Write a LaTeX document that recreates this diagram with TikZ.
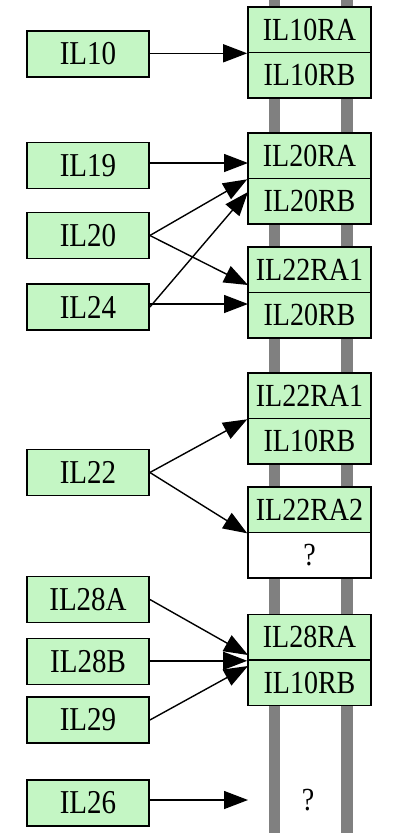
\documentclass[tikz,border=0pt]{standalone}
\usepackage{fontspec}
\setmainfont{Liberation Serif}
\usetikzlibrary{arrows.meta}
\definecolor{boxgreen}{RGB}{196,246,196}
\definecolor{bargray}{RGB}{128,128,128}
\newcommand{\tallt}[1]{\scalebox{1}[1.15]{#1}}
\begin{document}
\begin{tikzpicture}[x=1pt,y=-1pt,
  lbox/.style={draw=black,line width=1.8pt,fill=boxgreen,minimum width=122pt,minimum height=46pt,inner sep=0pt,font=\fontsize{29}{29}\selectfont},
  rbox/.style={draw=black,line width=1.6pt,fill=boxgreen,minimum width=123pt,minimum height=45.5pt,inner sep=0pt,font=\fontsize{28}{28}\selectfont},
  qbox/.style={rbox,fill=white},
  link/.style={line width=1.4pt,-{Triangle[length=24pt,width=18pt]}},
  bar/.style={fill=bargray,draw=none}]
\useasboundingbox (0,0) rectangle (406,833);
\fill[white] (0,0) rectangle (406,833);
% vertical bars
\fill[bar] (269,0) rectangle (280,833);
\fill[bar] (341,0) rectangle (353,833);
% left boxes
\node[lbox] (il10) at (88,54) {\tallt{IL10}};
\node[lbox] (il19) at (88,165.5) {\tallt{IL19}};
\node[lbox] (il20) at (88,235.5) {\tallt{IL20}};
\node[lbox] (il24) at (88,307) {\tallt{IL24}};
\node[lbox] (il22) at (88,472.5) {\tallt{IL22}};
\node[lbox] (il28a) at (88,599.5) {\tallt{IL28A}};
\node[lbox] (il28b) at (88,661.5) {\tallt{IL28B}};
\node[lbox] (il29) at (88,720) {\tallt{IL29}};
\node[lbox] (il26) at (88,803) {\tallt{IL26}};
% right boxes
\node[rbox] (r1a) at (309.5,29.75) {\tallt{IL10RA}};
\node[rbox] (r1b) at (309.5,75.25) {\tallt{IL10RB}};
\node[rbox] (r2a) at (309.5,155.75) {\tallt{IL20RA}};
\node[rbox] (r2b) at (309.5,201.25) {\tallt{IL20RB}};
\node[rbox] (r3a) at (309.5,269.75) {\tallt{IL22RA1}};
\node[rbox] (r3b) at (309.5,315.25) {\tallt{IL20RB}};
\node[rbox] (r4a) at (309.5,395.75) {\tallt{IL22RA1}};
\node[rbox] (r4b) at (309.5,441.25) {\tallt{IL10RB}};
\node[rbox] (r5a) at (309.5,509.75) {\tallt{IL22RA2}};
\node[qbox] (r5b) at (309.5,555.25) {\tallt{?}};
\node[rbox] (r6a) at (309.5,637.25) {\tallt{IL28RA}};
\node[rbox] (r6b) at (309.5,682.75) {\tallt{IL10RB}};
\node[font=\fontsize{28}{28}\selectfont] (q2) at (308,800) {\tallt{?}};
% arrow end points
\coordinate (t19) at (248,163);
\coordinate (t24a) at (248,192);
\coordinate (t20b) at (248,285);
\coordinate (t24b) at (248,304);
\coordinate (t28a) at (248,655);
\coordinate (t29) at (248,666);
\coordinate (t26) at (248,800);
% connectors
\draw[link] (il10.east |- r1a.south west) -- (r1a.south west);
\draw[link] (il19.east |- t19) -- (t19);
\draw[link] (il20.east) -- (r2a.south west);
\draw[link] (il20.east) -- (t20b);
\draw[link] (il24.east) -- (t24a);
\draw[link] (il24.east |- t24b) -- (t24b);
\draw[link] (il22.east) -- (r4a.south west);
\draw[link] (il22.east) -- (r5a.south west);
\draw[link] (il28a.east) -- (t28a);
\draw[link] (il28b.east |- r6a.south west) -- (r6a.south west);
\draw[link] (il29.east) -- (t29);
\draw[link] (il26.east |- t26) -- (t26);
\end{tikzpicture}
\end{document}
